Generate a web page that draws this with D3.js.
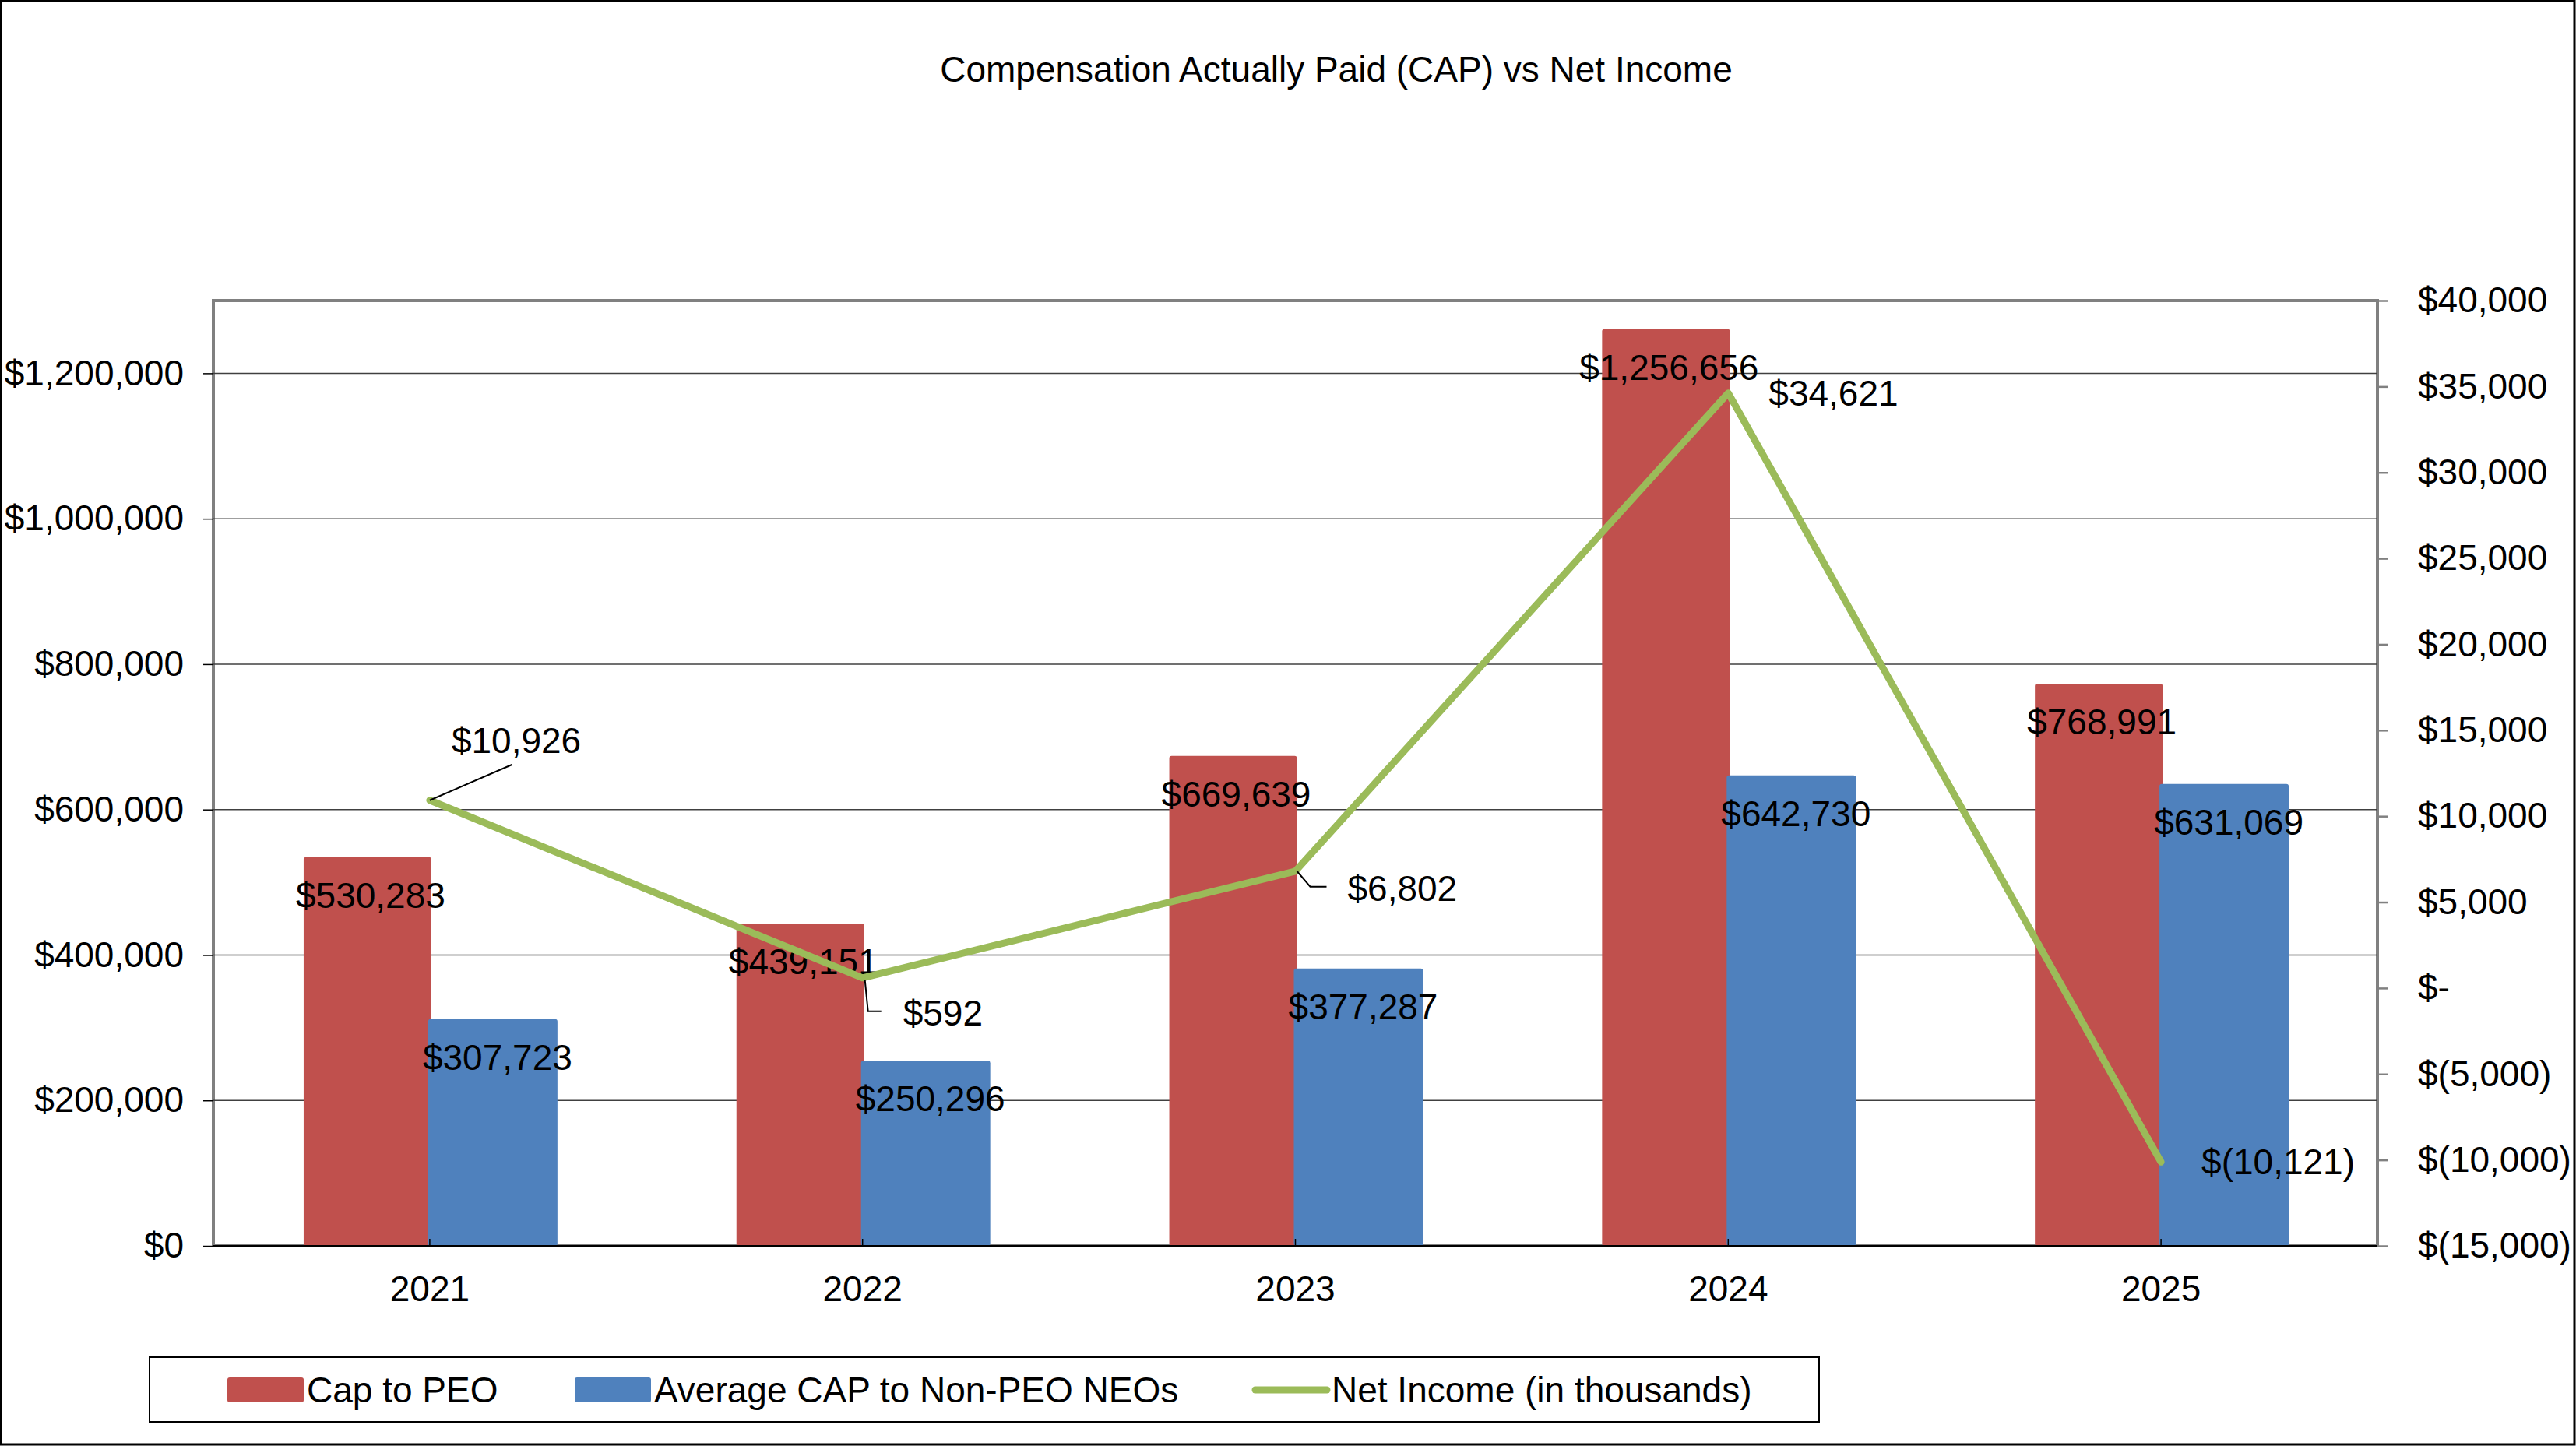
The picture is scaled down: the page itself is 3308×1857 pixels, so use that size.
<!DOCTYPE html>
<html>
<head>
<meta charset="utf-8">
<script src="https://cdn.jsdelivr.net/npm/d3@7"></script>
<style>
  html, body { margin: 0; padding: 0; background: #fff; }
  svg { display: block; font-family: "Liberation Sans", Arial, sans-serif; }
  .tick text { font-size: 46px; fill: #000; }
</style>
</head>
<body>
<div id="chart"></div>
<script>
'use strict';

// chart values
var years = ['2021', '2022', '2023', '2024', '2025'];
var capToPeo = [530283, 439151, 669639, 1256656, 768991];
var capToNonPeo = [307723, 250296, 377287, 642730, 631069];
var netIncome = [10926, 592, 6802, 34621, -10121];
var leftTicks = [0, 200000, 400000, 600000, 800000, 1000000, 1200000];
var rightTicks = [-15000, -10000, -5000, 0, 5000, 10000, 15000, 20000, 25000, 30000, 35000, 40000];
var seriesNames = ['Cap to PEO', 'Average CAP to Non-PEO NEOs', 'Net Income (in thousands)'];

var width = 3308, height = 1857;
var margins = { top: 386, left: 274, right: 255, bottom: 257 };
var plotW = width - margins.left - margins.right;
var plotH = height - margins.top - margins.bottom;

var red = '#C0504D', blue = '#4F81BD', green = '#9BBB59';

var svg = d3.select('#chart')
    .append('svg')
    .attr('width', width)
    .attr('height', height);

// outer border
svg.append('rect')
    .attr('x', 1).attr('y', 1)
    .attr('width', width - 3).attr('height', height - 3)
    .attr('fill', '#fff')
    .attr('stroke', '#000')
    .attr('stroke-width', 3);

svg.append('text')
    .attr('x', 1716)
    .attr('y', 105)
    .attr('text-anchor', 'middle')
    .attr('font-size', 46)
    .text('Compensation Actually Paid (CAP) vs Net Income');

var g = svg.append('g')
    .attr('transform', 'translate(' + margins.left + ',' + margins.top + ')');

var x = d3.scaleBand().domain(years).range([0, plotW]);
var barW = x.bandwidth() * 0.295;
var xSub = d3.scaleBand().domain(['peo', 'neo']).range([-barW, barW]);

var yLeft = d3.scaleLinear().domain([0, 1300000]).range([plotH, 0]);
var yRight = d3.scaleLinear().domain([-15000, 40000]).range([plotH, 0]);

var fmtNum = d3.format(',');
function fmtLeft(d) { return '$' + fmtNum(d); }
function fmtRight(d) {
    if (d === 0) return '$-';
    if (d < 0) return '$(' + fmtNum(-d) + ')';
    return '$' + fmtNum(d);
}

// plot frame
g.append('rect')
    .attr('width', plotW).attr('height', plotH)
    .attr('fill', '#fff')
    .attr('stroke', '#808080')
    .attr('stroke-width', 4);

// gridlines
g.append('g')
    .selectAll('line')
    .data(leftTicks.filter(function(d) { return d > 0; }))
    .enter()
    .append('line')
    .attr('x1', 0).attr('x2', plotW)
    .attr('y1', function(d) { return yLeft(d); })
    .attr('y2', function(d) { return yLeft(d); })
    .attr('stroke', '#404040')
    .attr('stroke-width', 1.5);

// left axis
var leftAxis = g.append('g')
    .call(d3.axisLeft(yLeft).tickValues(leftTicks).tickFormat(fmtLeft).tickSize(13).tickPadding(25));
leftAxis.select('.domain').remove();
leftAxis.selectAll('.tick line').attr('stroke', '#000').attr('stroke-width', 1.5);

// right axis
var rightAxis = g.append('g')
    .attr('transform', 'translate(' + plotW + ',0)')
    .call(d3.axisRight(yRight).tickValues(rightTicks).tickFormat(fmtRight).tickSize(14).tickPadding(38));
rightAxis.select('.domain').remove();
rightAxis.selectAll('.tick line').attr('stroke', '#808080').attr('stroke-width', 2.5);

// bars (slightly raised tops like the source render)
var groups = g.append('g')
    .selectAll('g')
    .data(years)
    .enter()
    .append('g')
    .attr('transform', function(d) { return 'translate(' + (x(d) + x.bandwidth() / 2) + ',0)'; });

groups.append('rect')
    .attr('x', xSub('peo') + 2)
    .attr('y', function(d, i) { return yLeft(capToPeo[i]) - 4; })
    .attr('width', xSub.bandwidth())
    .attr('height', function(d, i) { return plotH - yLeft(capToPeo[i]) + 4; })
    .attr('rx', 3)
    .attr('fill', red);

groups.append('rect')
    .attr('x', xSub('neo') - 2)
    .attr('y', function(d, i) { return yLeft(capToNonPeo[i]) - 4; })
    .attr('width', xSub.bandwidth() + 2)
    .attr('height', function(d, i) { return plotH - yLeft(capToNonPeo[i]) + 4; })
    .attr('rx', 3)
    .attr('fill', blue);

// bottom axis line and category ticks
g.append('line')
    .attr('x1', 0).attr('x2', plotW)
    .attr('y1', plotH).attr('y2', plotH)
    .attr('stroke', '#000').attr('stroke-width', 2);

var bottomAxis = g.append('g')
    .attr('transform', 'translate(0,' + plotH + ')')
    .call(d3.axisBottom(x).tickSizeInner(-9).tickSizeOuter(0).tickPadding(40));
bottomAxis.select('.domain').remove();
bottomAxis.selectAll('.tick line').attr('stroke', '#000').attr('stroke-width', 1.5);
bottomAxis.selectAll('.tick text').attr('dy', '0.35em').attr('y', 55);

// bar labels
groups.append('text')
    .attr('x', xSub('peo') + xSub.bandwidth() / 2 + 6)
    .attr('y', function(d, i) { return yLeft(capToPeo[i]) + 45; })
    .attr('dy', '0.35em')
    .attr('text-anchor', 'middle')
    .attr('font-size', 46)
    .text(function(d, i) { return fmtLeft(capToPeo[i]); });

groups.append('text')
    .attr('x', xSub('neo') + xSub.bandwidth() / 2 + 5)
    .attr('y', function(d, i) { return yLeft(capToNonPeo[i]) + 45; })
    .attr('dy', '0.35em')
    .attr('text-anchor', 'middle')
    .attr('font-size', 46)
    .text(function(d, i) { return fmtLeft(capToNonPeo[i]); });

// net income line
var cx = function(d, i) { return x(years[i]) + x.bandwidth() / 2; };
var line = d3.line()
    .x(cx)
    .y(function(d) { return yRight(d); });

g.append('path')
    .datum(netIncome)
    .attr('d', line)
    .attr('fill', 'none')
    .attr('stroke', green)
    .attr('stroke-width', 9)
    .attr('stroke-linejoin', 'round')
    .attr('stroke-linecap', 'round');

// line labels: offset of text from the point, leader path (relative), if any
var lineLabelOffsets = [
    { dx: 28, dy: -77, leader: [[0, 0], [106, -46]] },
    { dx: 52, dy: 45, leader: [[3, 3], [7, 43], [24, 43]] },
    { dx: 67, dy: 22, leader: [[2, 0], [19, 20], [40, 20]] },
    { dx: 52, dy: 0, leader: null },
    { dx: 52, dy: 0, leader: null }
];

netIncome.forEach(function(v, i) {
    var px = cx(v, i), py = yRight(v);
    var o = lineLabelOffsets[i];
    if (o.leader) {
        g.append('path')
            .attr('d', d3.line()(o.leader.map(function(p) { return [px + p[0], py + p[1]]; })))
            .attr('fill', 'none')
            .attr('stroke', '#000')
            .attr('stroke-width', 2);
    }
    g.append('text')
        .attr('x', px + o.dx)
        .attr('y', py + o.dy)
        .attr('dy', '0.35em')
        .attr('font-size', 46)
        .text(fmtRight(v));
});

// legend
var legend = svg.append('g');
legend.append('rect')
    .attr('x', 192).attr('y', 1743)
    .attr('width', 2144).attr('height', 83)
    .attr('fill', '#fff')
    .attr('stroke', '#000')
    .attr('stroke-width', 2);

var legendItems = [
    { name: seriesNames[0], type: 'rect', color: red, x: 292 },
    { name: seriesNames[1], type: 'rect', color: blue, x: 738 },
    { name: seriesNames[2], type: 'line', color: green, x: 1608 }
];

legendItems.forEach(function(d) {
    if (d.type === 'rect') {
        legend.append('rect')
            .attr('x', d.x).attr('y', 1769)
            .attr('width', 98).attr('height', 32)
            .attr('rx', 3)
            .attr('fill', d.color);
    } else {
        legend.append('line')
            .attr('x1', d.x + 4).attr('x2', d.x + 96)
            .attr('y1', 1785).attr('y2', 1785)
            .attr('stroke', d.color)
            .attr('stroke-width', 9)
            .attr('stroke-linecap', 'round');
    }
    legend.append('text')
        .attr('x', d.x + 102)
        .attr('y', 1785)
        .attr('dy', '0.35em')
        .attr('font-size', 46)
        .text(d.name);
});
</script>
</body>
</html>
